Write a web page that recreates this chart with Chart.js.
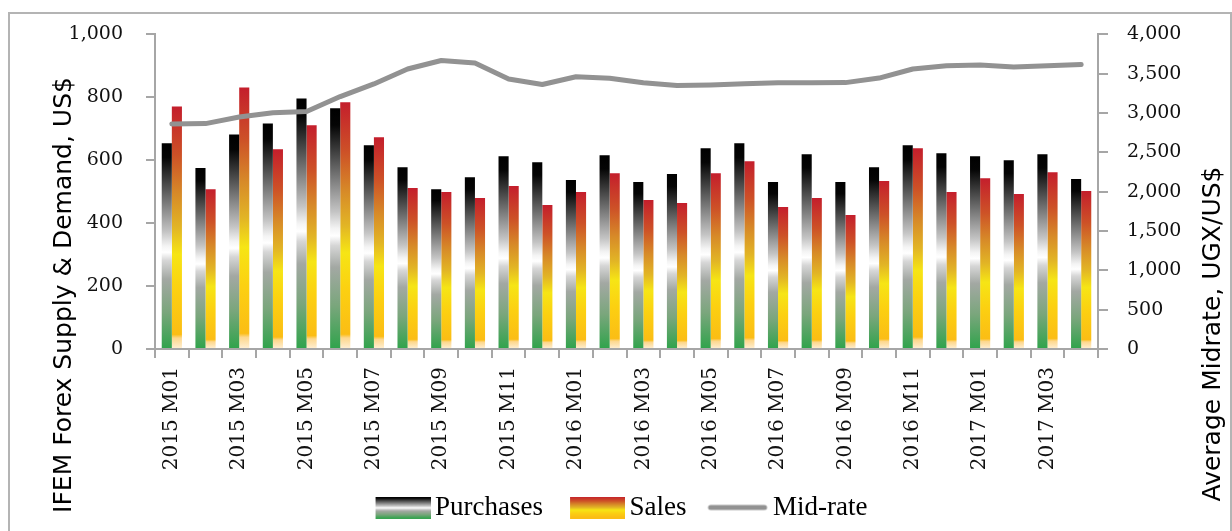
<!DOCTYPE html>
<html>
<head>
<meta charset="utf-8">
<script src="https://cdn.jsdelivr.net/npm/chart.js@4.4.0/dist/chart.umd.min.js"></script>
<style>
html,body{margin:0;padding:0;background:#fff;}
#wrap{position:relative;width:1232px;height:531px;}
</style>
</head>
<body>
<div id="wrap"><canvas id="c" width="1232" height="531"></canvas></div>
<script>
const months = ["2015 M01","2015 M02","2015 M03","2015 M04","2015 M05","2015 M06","2015 M07","2015 M08","2015 M09","2015 M10","2015 M11","2015 M12",
  "2016 M01","2016 M02","2016 M03","2016 M04","2016 M05","2016 M06","2016 M07","2016 M08","2016 M09","2016 M10","2016 M11","2016 M12",
  "2017 M01","2017 M02","2017 M03","2017 M04"];
const purchases = [654,575,682,717,796,765,648,578,508,546,613,594,537,616,531,556,638,654,531,619,531,578,648,622,613,600,619,540];
const sales = [771,508,831,635,711,784,673,512,499,480,518,458,499,559,474,464,559,597,451,480,426,534,638,499,543,493,562,502];
const midRate = [2861,2866,2950,3004,3020,3210,3370,3560,3668,3637,3434,3363,3462,3443,3384,3350,3358,3372,3385,3385,3387,3445,3560,3600,3610,3586,3600,3618];
const seriesNames = ["Purchases","Sales","Mid-rate"];
const leftTitle = "IFEM Forex Supply & Demand, US$";
const rightTitle = "Average Midrate, UGX/US$";

const purchaseStops = [[0,'#000000'],[0.07,'#050505'],[0.23,'#5a5a5a'],[0.43,'#c4c4c4'],[0.5,'#f4f4f4'],[0.53,'#ffffff'],[0.57,'#d6d6d6'],[0.66,'#a3a8a3'],[0.82,'#7aa67c'],[1,'#2fa34b']];
const salesStops = [[0,'#c41e2c'],[0.2,'#cd5127'],[0.36,'#d78a28'],[0.5,'#e2b525'],[0.61,'#f6e515'],[0.76,'#fcd011'],[0.94,'#fbbd15'],[0.955,'#fdd78c'],[1,'#fff0d6']];

function fillStops(g, stops){ stops.forEach(s => g.addColorStop(s[0], s[1])); return g; }

function barGradient(ctx, stops){
  const chart = ctx.chart;
  if (ctx.type !== 'data' || !chart.chartArea || !chart.scales.y) return stops[0][1];
  const y = chart.scales.y;
  const top = y.getPixelForValue(ctx.raw);
  const bottom = y.getPixelForValue(0);
  if (!isFinite(top) || !isFinite(bottom) || top === bottom) return stops[0][1];
  return fillStops(chart.ctx.createLinearGradient(0, top, 0, bottom), stops);
}

function makeImg(w, h, draw){
  const cv = document.createElement('canvas'); cv.width = w; cv.height = h;
  draw(cv.getContext('2d'), w, h); return cv;
}
// legend symbols: 75px wide canvases, visible part at the right end
const legendImgs = [
  makeImg(75, 22, (c,w,h) => { c.fillStyle = fillStops(c.createLinearGradient(0,0,0,h), purchaseStops); c.fillRect(w-55,0,55,h); }),
  makeImg(75, 22, (c,w,h) => { c.fillStyle = fillStops(c.createLinearGradient(0,0,0,h), salesStops.slice(0,7)); c.fillRect(w-55,0,55,h); }),
  makeImg(75, 8, (c,w,h) => { c.strokeStyle = '#929292'; c.lineWidth = 5; c.lineCap = 'round'; c.beginPath(); c.moveTo(w-58,4); c.lineTo(w-4,4); c.stroke(); })
];

const AXIS = '#a6a6a6';
const deco = {
  id: 'deco',
  beforeDraw(chart){
    const c = chart.ctx; c.save();
    c.strokeStyle = '#b4b4b4'; c.lineWidth = 2;
    c.strokeRect(9, 13, 1222, 600);
    c.restore();
  },
  afterDraw(chart){
    const c = chart.ctx, a = chart.chartArea;
    c.save();
    c.fillStyle = '#000'; c.font = '25px "DejaVu Sans"'; c.textAlign = 'center'; c.textBaseline = 'middle';
    c.translate(a.left - 91, 295); c.rotate(-Math.PI/2); c.fillText(leftTitle, 0, 0);
    c.restore();
    c.save();
    c.fillStyle = '#000'; c.font = '25px "DejaVu Sans"'; c.textAlign = 'center'; c.textBaseline = 'middle';
    c.translate(a.right + 115, 334); c.rotate(-Math.PI/2); c.fillText(rightTitle, 0, 0);
    c.restore();
  }
};

new Chart(document.getElementById('c'), {
  data: {
    labels: months,
    datasets: [
      { type: 'bar', label: seriesNames[0], data: purchases, yAxisID: 'y', order: 1,
        backgroundColor: ctx => barGradient(ctx, purchaseStops), barPercentage: 1, categoryPercentage: 0.6 },
      { type: 'bar', label: seriesNames[1], data: sales, yAxisID: 'y', order: 1,
        backgroundColor: ctx => barGradient(ctx, salesStops), barPercentage: 1, categoryPercentage: 0.6 },
      { type: 'line', label: seriesNames[2], data: midRate, yAxisID: 'y2', order: 0,
        borderColor: '#929292', backgroundColor: '#929292', borderWidth: 5, pointRadius: 0, pointHoverRadius: 0,
        tension: 0, borderCapStyle: 'round', borderJoinStyle: 'round', fill: false }
    ]
  },
  options: {
    responsive: false,
    animation: false,
    devicePixelRatio: 1,
    layout: { padding: { top: 33, left: 0, right: 0, bottom: 0 } },
    plugins: {
      tooltip: { enabled: false },
      legend: {
        position: 'bottom',
        labels: {
          usePointStyle: true,
          pointStyleWidth: 57,
          padding: 16,
          color: '#000',
          font: { family: '"Liberation Serif"', size: 27 },
          sort: (a, b) => a.datasetIndex - b.datasetIndex,
          generateLabels(chart){
            const items = Chart.defaults.plugins.legend.labels.generateLabels(chart);
            items.forEach(it => { it.pointStyle = legendImgs[it.datasetIndex]; it.lineWidth = 0; });
            return items;
          }
        }
      }
    },
    scales: {
      x: {
        type: 'category',
        offset: true,
        grid: { offset: true, drawOnChartArea: false, drawTicks: true, tickLength: 9, color: AXIS, lineWidth: 2 },
        border: { color: AXIS, width: 2 },
        ticks: {
          autoSkip: false, minRotation: 90, maxRotation: 90, padding: 9, color: '#111',
          font: { family: '"DejaVu Serif"', size: 20 },
          callback(v, i){ return i % 2 === 0 ? this.getLabelForValue(v) : ''; }
        },
        afterFit(scale){ scale.height = scale.chart.height - scale.chart.legend.height - 349; }
      },
      y: {
        position: 'left', min: 0, max: 1000,
        grid: { drawOnChartArea: false, drawTicks: true, tickLength: 9, color: AXIS, lineWidth: 2 },
        border: { color: AXIS, width: 2 },
        ticks: { stepSize: 200, padding: 23, color: '#111', font: { family: '"DejaVu Serif"', size: 19 } },
        afterFit(scale){ scale.width = 155; }
      },
      y2: {
        position: 'right', min: 0, max: 4000,
        grid: { drawOnChartArea: false, drawTicks: true, tickLength: 10, color: AXIS, lineWidth: 2 },
        border: { color: AXIS, width: 2 },
        ticks: { stepSize: 500, padding: 19, color: '#111', font: { family: '"DejaVu Serif"', size: 19 } },
        afterFit(scale){ scale.width = 134; }
      }
    }
  },
  plugins: [deco]
});
</script>
</body>
</html>
